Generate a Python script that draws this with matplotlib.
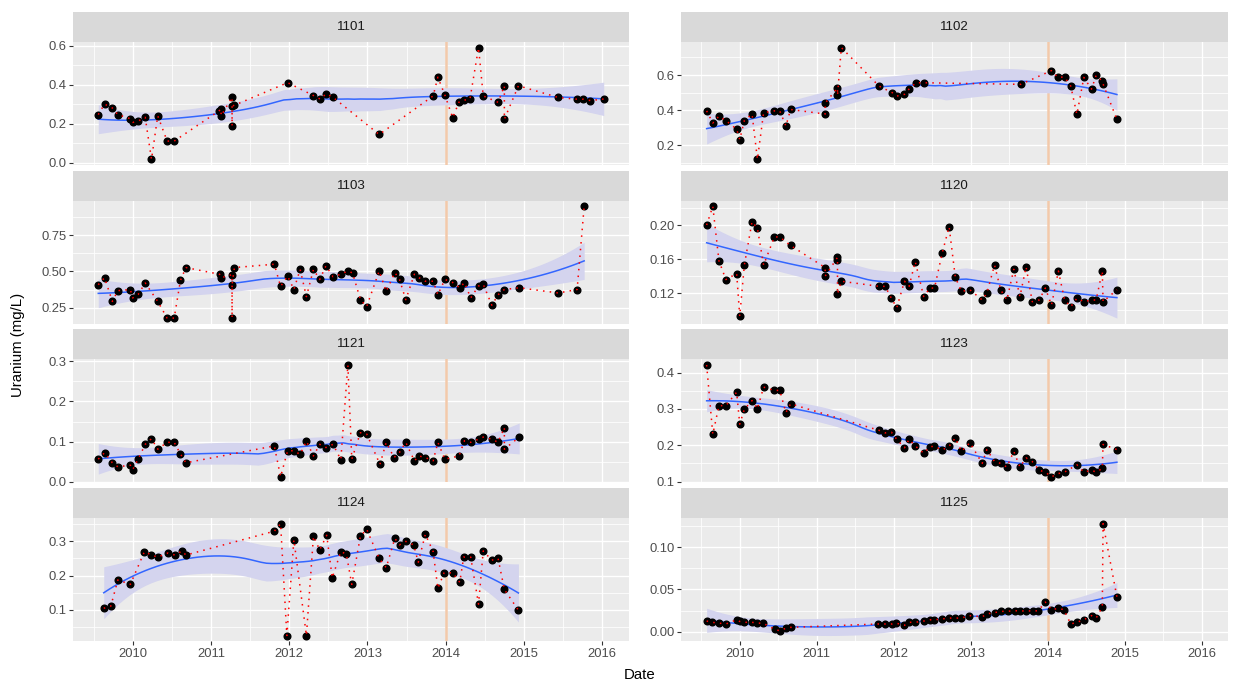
import numpy as np
import matplotlib
matplotlib.use('Agg')
import matplotlib.pyplot as plt
from matplotlib.ticker import MultipleLocator, FormatStrFormatter

plt.rcParams['font.family'] = ['Liberation Sans', 'DejaVu Sans']

# ---- data (decimal year, uranium mg/L) ----
x1101 = [2009.56, 2009.64, 2009.74, 2009.81, 2009.97, 2010.00, 2010.07, 2010.16, 2010.24, 2010.32,
         2010.44, 2010.53, 2011.10, 2011.13, 2011.13, 2011.27, 2011.27, 2011.27, 2011.30, 2011.98,
         2012.31, 2012.40, 2012.47, 2012.56, 2013.15, 2013.84, 2013.90, 2013.99, 2014.09, 2014.17,
         2014.23, 2014.31, 2014.42, 2014.48, 2014.67, 2014.75, 2014.75, 2014.93, 2015.44, 2015.68,
         2015.76, 2015.85, 2016.02]
y1101 = [0.246, 0.30, 0.28, 0.246, 0.225, 0.206, 0.213, 0.232, 0.016, 0.24,
         0.11, 0.11, 0.264, 0.275, 0.24, 0.335, 0.188, 0.29, 0.294, 0.41,
         0.344, 0.325, 0.353, 0.335, 0.144, 0.342, 0.438, 0.346, 0.23, 0.31,
         0.32, 0.325, 0.59, 0.342, 0.309, 0.394, 0.222, 0.394, 0.334, 0.325,
         0.325, 0.318, 0.326]

x1102 = [2009.57, 2009.65, 2009.73, 2009.82, 2009.96, 2010.00, 2010.06, 2010.16, 2010.23, 2010.31,
         2010.45, 2010.52, 2010.60, 2010.66, 2011.11, 2011.11, 2011.27, 2011.27, 2011.32, 2011.81,
         2011.98, 2012.04, 2012.14, 2012.20, 2012.29, 2012.39, 2013.65, 2014.05, 2014.13, 2014.22,
         2014.30, 2014.38, 2014.47, 2014.57, 2014.63, 2014.71, 2014.72, 2014.90]
y1102 = [0.396, 0.327, 0.366, 0.341, 0.292, 0.233, 0.341, 0.378, 0.12, 0.386,
         0.396, 0.396, 0.31, 0.404, 0.378, 0.44, 0.527, 0.484, 0.756, 0.537,
         0.50, 0.48, 0.49, 0.52, 0.556, 0.556, 0.547, 0.625, 0.588, 0.588,
         0.537, 0.376, 0.586, 0.52, 0.598, 0.566, 0.549, 0.347]

x1103 = [2009.56, 2009.64, 2009.74, 2009.81, 2009.97, 2010.00, 2010.07, 2010.16, 2010.32, 2010.44,
         2010.53, 2010.61, 2010.68, 2011.11, 2011.13, 2011.27, 2011.27, 2011.27, 2011.30, 2011.81,
         2011.89, 2011.98, 2012.06, 2012.14, 2012.22, 2012.31, 2012.39, 2012.47, 2012.56, 2012.66,
         2012.75, 2012.81, 2012.91, 2012.99, 2013.15, 2013.24, 2013.35, 2013.41, 2013.49, 2013.60,
         2013.66, 2013.74, 2013.84, 2013.90, 2013.99, 2014.09, 2014.18, 2014.24, 2014.32, 2014.42,
         2014.48, 2014.59, 2014.67, 2014.75, 2014.94, 2015.44, 2015.68, 2015.77]
y1103 = [0.409, 0.457, 0.294, 0.368, 0.376, 0.318, 0.342, 0.421, 0.294, 0.179,
         0.179, 0.438, 0.527, 0.481, 0.457, 0.478, 0.179, 0.409, 0.527, 0.55,
         0.397, 0.469, 0.376, 0.514, 0.327, 0.514, 0.445, 0.539, 0.464, 0.481,
         0.503, 0.49, 0.307, 0.258, 0.503, 0.363, 0.493, 0.445, 0.306, 0.481,
         0.457, 0.433, 0.433, 0.34, 0.445, 0.424, 0.388, 0.424, 0.318, 0.40,
         0.412, 0.268, 0.34, 0.376, 0.388, 0.352, 0.376, 0.949]

x1120 = [2009.57, 2009.65, 2009.73, 2009.82, 2009.96, 2010.00, 2010.06, 2010.16, 2010.23, 2010.31,
         2010.45, 2010.52, 2010.66, 2011.11, 2011.11, 2011.27, 2011.27, 2011.27, 2011.32, 2011.81,
         2011.89, 2011.97, 2012.04, 2012.14, 2012.20, 2012.28, 2012.39, 2012.47, 2012.53, 2012.63,
         2012.72, 2012.80, 2012.88, 2012.99, 2013.15, 2013.21, 2013.31, 2013.39, 2013.47, 2013.56,
         2013.64, 2013.72, 2013.80, 2013.89, 2013.97, 2014.05, 2014.14, 2014.22, 2014.30, 2014.38,
         2014.47, 2014.57, 2014.63, 2014.71, 2014.72, 2014.90]
y1120 = [0.20, 0.222, 0.158, 0.136, 0.143, 0.093, 0.153, 0.204, 0.196, 0.153,
         0.186, 0.186, 0.176, 0.15, 0.14, 0.162, 0.159, 0.119, 0.134, 0.128,
         0.128, 0.114, 0.103, 0.134, 0.128, 0.157, 0.116, 0.126, 0.126, 0.167,
         0.198, 0.139, 0.122, 0.124, 0.112, 0.12, 0.153, 0.124, 0.112, 0.148,
         0.116, 0.151, 0.11, 0.112, 0.126, 0.106, 0.146, 0.112, 0.104, 0.114,
         0.11, 0.112, 0.112, 0.146, 0.11, 0.124]

x1121 = [2009.56, 2009.64, 2009.74, 2009.81, 2009.97, 2010.00, 2010.07, 2010.16, 2010.24, 2010.32,
         2010.44, 2010.53, 2010.61, 2010.68, 2011.81, 2011.89, 2011.98, 2012.06, 2012.14, 2012.22,
         2012.31, 2012.39, 2012.47, 2012.56, 2012.66, 2012.75, 2012.80, 2012.91, 2012.99, 2013.16,
         2013.24, 2013.34, 2013.41, 2013.49, 2013.60, 2013.66, 2013.74, 2013.84, 2013.90, 2013.99,
         2014.17, 2014.24, 2014.32, 2014.42, 2014.48, 2014.59, 2014.67, 2014.75, 2014.75, 2014.94]
y1121 = [0.056, 0.072, 0.047, 0.037, 0.041, 0.030, 0.056, 0.093, 0.107, 0.081,
         0.098, 0.098, 0.069, 0.047, 0.089, 0.012, 0.077, 0.077, 0.068, 0.101,
         0.064, 0.093, 0.085, 0.093, 0.055, 0.291, 0.056, 0.122, 0.119, 0.043,
         0.098, 0.06, 0.073, 0.098, 0.052, 0.064, 0.06, 0.052, 0.098, 0.056,
         0.064, 0.102, 0.098, 0.106, 0.111, 0.106, 0.098, 0.135, 0.081, 0.111]

x1123 = [2009.57, 2009.65, 2009.73, 2009.82, 2009.96, 2010.00, 2010.06, 2010.16, 2010.23, 2010.31,
         2010.45, 2010.52, 2010.60, 2010.66, 2011.81, 2011.89, 2011.97, 2012.04, 2012.14, 2012.20,
         2012.28, 2012.39, 2012.47, 2012.53, 2012.63, 2012.72, 2012.80, 2012.88, 2012.99, 2013.15,
         2013.21, 2013.31, 2013.39, 2013.47, 2013.56, 2013.64, 2013.72, 2013.80, 2013.89, 2013.97,
         2014.05, 2014.14, 2014.22, 2014.38, 2014.47, 2014.57, 2014.63, 2014.71, 2014.72, 2014.90]
y1123 = [0.421, 0.23, 0.309, 0.309, 0.346, 0.258, 0.299, 0.323, 0.30, 0.36,
         0.351, 0.351, 0.29, 0.314, 0.241, 0.234, 0.236, 0.216, 0.193, 0.216,
         0.198, 0.178, 0.196, 0.197, 0.187, 0.197, 0.22, 0.183, 0.207, 0.15,
         0.188, 0.155, 0.15, 0.14, 0.183, 0.14, 0.165, 0.155, 0.131, 0.126,
         0.113, 0.122, 0.126, 0.146, 0.126, 0.131, 0.126, 0.136, 0.202, 0.188]

x1124 = [2009.63, 2009.72, 2009.81, 2009.97, 2010.15, 2010.24, 2010.32, 2010.45, 2010.54, 2010.63,
         2010.68, 2011.81, 2011.89, 2011.97, 2012.06, 2012.22, 2012.31, 2012.39, 2012.48, 2012.55,
         2012.66, 2012.73, 2012.80, 2012.91, 2012.99, 2013.15, 2013.24, 2013.35, 2013.41, 2013.49,
         2013.59, 2013.65, 2013.74, 2013.84, 2013.90, 2013.98, 2014.09, 2014.18, 2014.23, 2014.32,
         2014.42, 2014.48, 2014.59, 2014.67, 2014.75, 2014.93]
y1124 = [0.104, 0.11, 0.187, 0.174, 0.27, 0.26, 0.254, 0.266, 0.26, 0.272,
         0.26, 0.33, 0.352, 0.024, 0.305, 0.024, 0.315, 0.275, 0.318, 0.193,
         0.27, 0.263, 0.174, 0.315, 0.336, 0.25, 0.223, 0.309, 0.29, 0.30,
         0.29, 0.239, 0.321, 0.27, 0.162, 0.208, 0.208, 0.18, 0.254, 0.254,
         0.116, 0.272, 0.245, 0.25, 0.159, 0.098]

x1125 = [2009.57, 2009.64, 2009.73, 2009.82, 2009.96, 2010.00, 2010.06, 2010.16, 2010.23, 2010.30,
         2010.46, 2010.52, 2010.60, 2010.66, 2011.80, 2011.89, 2011.98, 2012.03, 2012.14, 2012.20,
         2012.28, 2012.39, 2012.47, 2012.53, 2012.63, 2012.72, 2012.80, 2012.88, 2012.98, 2013.15,
         2013.21, 2013.31, 2013.40, 2013.48, 2013.57, 2013.64, 2013.72, 2013.81, 2013.88, 2013.97,
         2014.05, 2014.14, 2014.21, 2014.30, 2014.38, 2014.47, 2014.57, 2014.63, 2014.71, 2014.72,
         2014.90]
y1125 = [0.0125, 0.011, 0.010, 0.009, 0.014, 0.012, 0.011, 0.011, 0.010, 0.010,
         0.0025, 0.001, 0.004, 0.005, 0.009, 0.009, 0.009, 0.010, 0.0075, 0.011,
         0.011, 0.0125, 0.014, 0.014, 0.015, 0.016, 0.016, 0.016, 0.019, 0.0175,
         0.021, 0.0225, 0.024, 0.024, 0.025, 0.024, 0.025, 0.024, 0.025, 0.035,
         0.026, 0.0275, 0.026, 0.009, 0.011, 0.014, 0.019, 0.016, 0.029, 0.128,
         0.041]

sites = ['1101', '1102', '1103', '1120', '1121', '1123', '1124', '1125']
xs_all = [x1101, x1102, x1103, x1120, x1121, x1123, x1124, x1125]
ys_all = [y1101, y1102, y1103, y1120, y1121, y1123, y1124, y1125]
ystep = [0.2, 0.2, 0.25, 0.04, 0.1, 0.1, 0.1, 0.05]
ydec = [1, 1, 2, 2, 1, 1, 1, 2]
cut_year = 2014


def loess(x, y, grid, span=0.75):
    # local quadratic fit with tricube weights (like R's loess defaults)
    n = len(x)
    q = int(np.floor(n * span))

    def smoother(pts):
        L = np.zeros((len(pts), n))
        for i, x0 in enumerate(pts):
            d = np.abs(x - x0)
            h = np.sort(d)[q - 1] * 1.0001
            w = np.clip(1 - (d / h) ** 3, 0, None) ** 3
            X = np.column_stack([np.ones(n), x - x0, (x - x0) ** 2])
            XtW = X.T * w
            L[i] = np.linalg.solve(XtW @ X, XtW)[0]
        return L

    Ld = smoother(x)
    R = np.eye(n) - Ld
    RR = R.T @ R
    d1 = np.trace(RR)
    d2 = np.trace(RR @ RR)
    sigma = np.sqrt(np.sum((R @ y) ** 2) / d1)
    df = d1 ** 2 / d2
    t = 1.96 + (1.96 ** 3 + 1.96) / (4 * df)
    Lg = smoother(grid)
    fit = Lg @ y
    se = sigma * np.sqrt(np.sum(Lg ** 2, axis=1))
    return fit, fit - t * se, fit + t * se


W, H = 1235, 681
fig = plt.figure(figsize=(W / 100, H / 100), dpi=100)


def box(x0, y0, x1, y1):
    return [x0 / W, 1 - y1 / H, (x1 - x0) / W, (y1 - y0) / H]


cols = [(73, 629), (681, 1228)]
strip_h = 30
panel_h = 123

allx = np.concatenate([np.array(v) for v in xs_all])
lo, hi = allx.min(), allx.max()
pad = 0.05 * (hi - lo)

for k in range(8):
    r, c = divmod(k, 2)
    x0, x1 = cols[c]
    top = 12 + r * 158.7
    x = np.array(xs_all[k])
    y = np.array(ys_all[k])

    sax = fig.add_axes(box(x0, top, x1, top + strip_h))
    sax.set_facecolor('#D9D9D9')
    sax.set_xticks([])
    sax.set_yticks([])
    for s in sax.spines.values():
        s.set_visible(False)
    sax.text(0.5, 0.5, sites[k], ha='center', va='center', fontsize=9.6, color='#1A1A1A',
             transform=sax.transAxes)

    ax = fig.add_axes(box(x0, top + strip_h, x1, top + strip_h + panel_h))
    ax.set_facecolor('#EBEBEB')
    for s in ax.spines.values():
        s.set_visible(False)

    grid = np.linspace(x.min(), x.max(), 80)
    fit, low, upp = loess(x, y, grid)

    ax.axvline(cut_year, color='#F3C9AA', lw=1.8, zorder=1)
    ax.fill_between(grid, low, upp, color='#D4D4EE', lw=0, zorder=2)
    ax.plot(grid, fit, color='#3366FF', lw=1.1, zorder=3)
    ax.plot(x, y, 'o', color='black', ms=4.8, zorder=4)
    ax.plot(x, y, color='red', lw=1.1, ls=(0, (1, 3.4)), zorder=5)

    ax.set_xlim(lo - pad, hi + pad)
    ax.margins(y=0.05)

    ax.xaxis.set_major_locator(MultipleLocator(1))
    ax.xaxis.set_minor_locator(MultipleLocator(0.5))
    ax.yaxis.set_major_locator(MultipleLocator(ystep[k]))
    ax.yaxis.set_minor_locator(MultipleLocator(ystep[k] / 2))
    ax.yaxis.set_major_formatter(FormatStrFormatter('%.' + str(ydec[k]) + 'f'))
    ax.xaxis.set_major_formatter(FormatStrFormatter('%d'))

    ax.set_axisbelow(True)
    ax.grid(which='major', color='white', lw=1.0)
    ax.grid(which='minor', color='white', lw=0.55)
    ax.tick_params(which='minor', length=0)
    ax.tick_params(which='major', length=2.7, width=0.8, color='#333333',
                   labelsize=9.4, labelcolor='#4D4D4D', pad=2)
    if r < 3:
        ax.tick_params(axis='x', which='major', length=0, labelbottom=False)

fig.text(640 / W, 1 - 675 / H, 'Date', ha='center', va='center', fontsize=10.8)
fig.text(18 / W, 1 - 345 / H, 'Uranium (mg/L)', ha='center', va='center', rotation=90, fontsize=10.8)

fig.savefig('out.png', dpi=100)
